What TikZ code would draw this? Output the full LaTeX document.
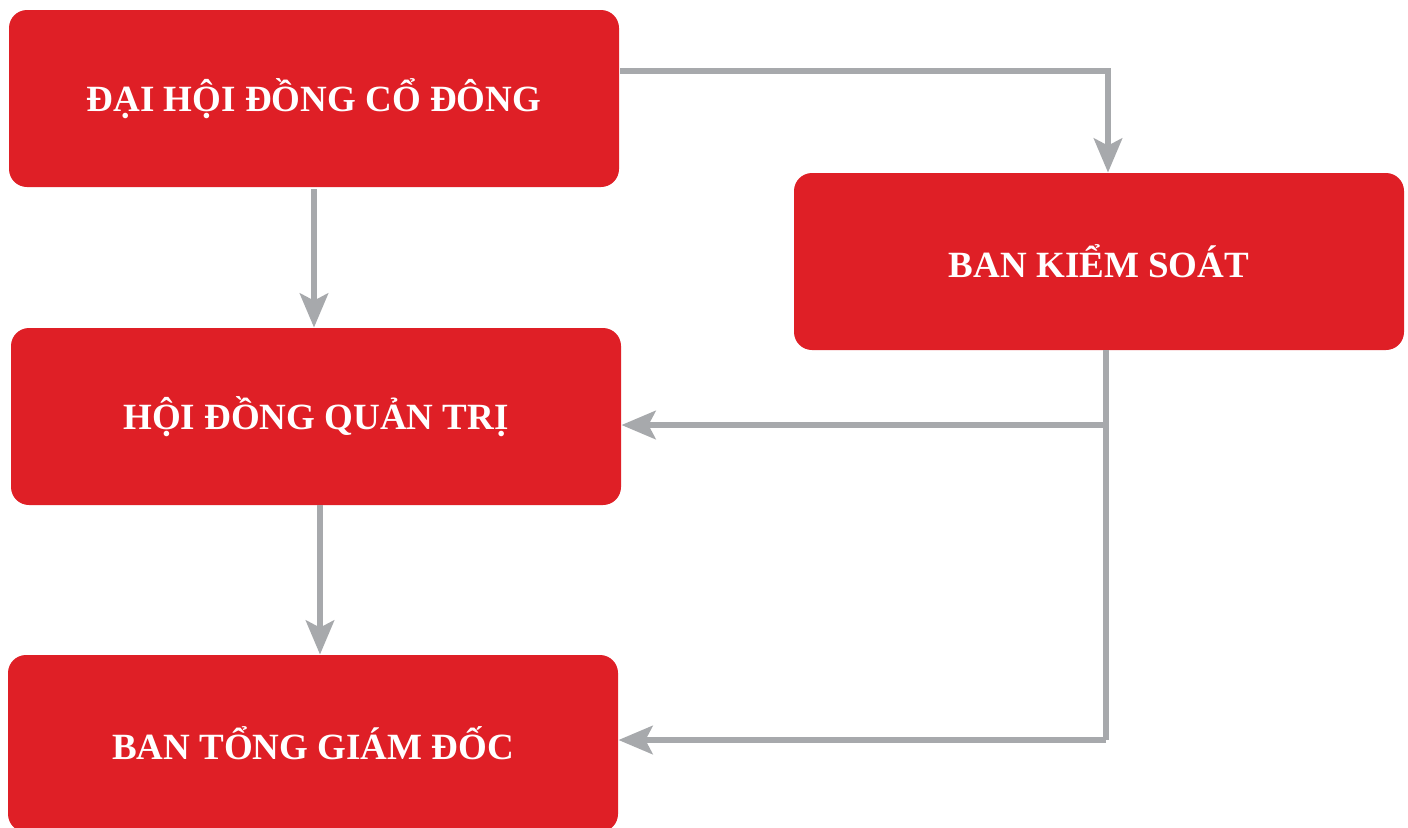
\documentclass[tikz,border=0pt]{standalone}
\usepackage{fontspec}
\setmainfont{Liberation Serif}
\usetikzlibrary{arrows.meta}
\definecolor{boxred}{HTML}{DF1F26}
\definecolor{linegray}{HTML}{A7A9AC}
\begin{document}
\begin{tikzpicture}[x=0.5pt,y=-0.5pt,
  box/.style={fill=boxred, draw=none, rounded corners=9pt, minimum width=305pt, minimum height=88.5pt,
    text=white, font=\fontsize{18.5}{22}\selectfont\bfseries, inner sep=0pt},
  conn/.style={draw=linegray, line width=3.4pt},
  arr/.style={conn, -{Stealth[length=17pt,width=14pt,inset=3.5pt]}}]
\useasboundingbox (0,0) rectangle (1408,827);
\node[box] (dhdcd) at (314,98.5) {ĐẠI HỘI ĐỒNG CỔ ĐÔNG};
\node[box] (bks) at (1099,261.5) {BAN KIỂM SOÁT};
\node[box] (hdqt) at (316,416.5) {HỘI ĐỒNG QUẢN TRỊ};
\node[box] (btgd) at (313,743.5) {BAN TỔNG GIÁM ĐỐC};
% coordinates
\coordinate (c1) at (620,71);
\coordinate (c2) at (1108,71);
\coordinate (c3) at (1106,350);
\coordinate (c4) at (1106,425);
\coordinate (c5) at (1106,740);
% arrows
\draw[arr] ([yshift=-1pt]dhdcd.south) -- (dhdcd.south |- hdqt.north);
\draw[arr] (c1) -- (c2) -- (c2 |- bks.north);
\draw[conn] (c3) -- (c5);
\draw[arr] (c4) -- (c4 -| hdqt.east);
\draw[arr] (c5) -- (c5 -| btgd.east);
\draw[arr] ([xshift=2pt]hdqt.south) -- ([xshift=2pt]hdqt.south |- btgd.north);
\end{tikzpicture}
\end{document}
